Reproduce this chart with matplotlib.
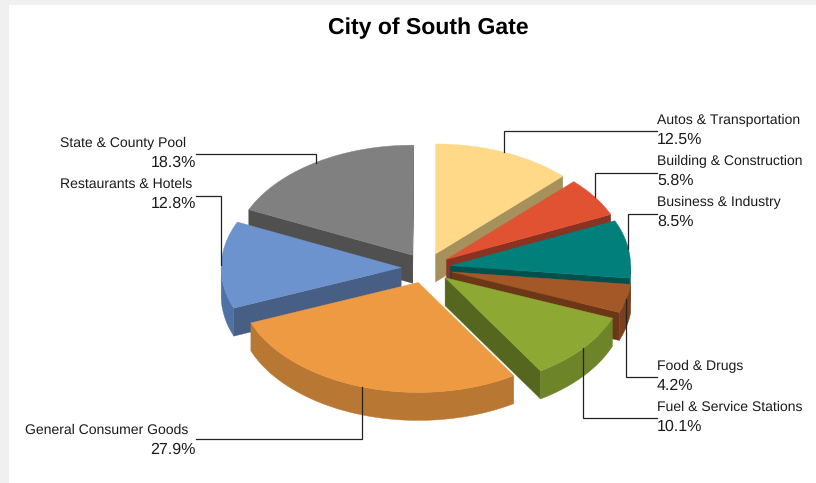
import numpy as np
import matplotlib
matplotlib.use("Agg")
import matplotlib.pyplot as plt
from matplotlib.patches import Polygon, Rectangle

plt.rcParams["text.hinting"] = "no_hinting"
plt.rcParams["text.hinting_factor"] = 1

# Sales tax share by economic segment
categories = [
    "Autos & Transportation", "Building & Construction", "Business & Industry",
    "Food & Drugs", "Fuel & Service Stations", "General Consumer Goods",
    "Restaurants & Hotels", "State & County Pool",
]
shares = [12.5, 5.8, 8.5, 4.2, 10.1, 27.9, 12.8, 18.3]

top_colors = ["#FFD888", "#E05232", "#007F7B", "#A45828", "#8DA934", "#EE9A42", "#6C93CE", "#808080"]
wall_colors = ["#A6905C", "#8A3322", "#00504E", "#6B3716", "#55661F", "#B87733", "#475F85", "#505050"]
rim_colors = ["#A6905C", "#8A3322", "#00504E", "#7A401C", "#6E8429", "#B87733", "#4F71A3", "#505050"]

# Label anchors: leader end x, name x, name y, leader elbow y
leader_end_x = [657, 657, 657, 657, 657, 196, 196, 196]
name_x = [657, 657, 657, 657, 657, 25, 60, 60]
name_y = [120.5, 161.5, 202.5, 366.5, 407.5, 430.5, 184.5, 143.5]
elbow_y = [131, 173, 214, 377, 418, 439, 196, 154]
explode = [0.138, 0.138, 0.138, 0.148, 0.138, 0.138, 0.138, 0.138]

CX, CY = 426.0, 268.0
RX, RY = 180.0, 110.0
DEPTH = 28.0
FONT = "Liberation Sans"


def rim_point(theta, apex):
    return apex[0] + RX * np.sin(theta), apex[1] - RY * np.cos(theta)


fig = plt.figure(figsize=(8.16, 4.83), dpi=100, facecolor="white")
ax = fig.add_axes([0, 0, 1, 1])
ax.set_xlim(0, 816)
ax.set_ylim(483, 0)
ax.axis("off")

# Grey page margin around the chart area
ax.add_patch(Rectangle((0, 0), 9, 483, fc="#F0F0F0", ec="none", zorder=0))
ax.add_patch(Rectangle((0, 0), 816, 4.5, fc="#F0F0F0", ec="none", zorder=0))

edges = np.radians(np.concatenate([[0], np.cumsum(shares)]) * 3.6)
wedges = []
for i, value in enumerate(shares):
    a, b = edges[i], edges[i + 1]
    mid = (a + b) / 2
    apex = (CX + explode[i] * RX * np.sin(mid), CY - explode[i] * RY * np.cos(mid))
    wedges.append((apex[1], i, a, b, mid, apex))

# Paint from the back of the pie to the front
for _, i, a, b, mid, apex in sorted(wedges, key=lambda w: w[0]):
    z = 2 + 0.1 * apex[1] / 100
    # Cut faces that turn toward the viewer
    for theta, visible in ((a, np.sin(a) < -1e-6), (b, np.sin(b) > 1e-6)):
        if visible:
            px, py = rim_point(theta, apex)
            ax.add_patch(Polygon(
                [apex, (px, py), (px, py + DEPTH), (apex[0], apex[1] + DEPTH)],
                fc=wall_colors[i], ec=wall_colors[i], lw=0.3, zorder=z))
    # Outer rim on the front half of the ellipse
    lo, hi = max(a, np.pi / 2), min(b, 3 * np.pi / 2)
    if hi > lo:
        t = np.linspace(lo, hi, 80)
        xs, ys = rim_point(t, apex)
        pts = np.column_stack([np.r_[xs, xs[::-1]], np.r_[ys, ys[::-1] + DEPTH]])
        ax.add_patch(Polygon(pts, fc=rim_colors[i], ec=rim_colors[i], lw=0.3, zorder=z))
    # Top face
    t = np.linspace(a, b, 120)
    xs, ys = rim_point(t, apex)
    ax.add_patch(Polygon(np.vstack([apex, np.column_stack([xs, ys])]),
                         fc=top_colors[i], ec=top_colors[i], lw=0.3, zorder=z + 0.01))

# Elbow leaders and two-line labels
for _, i, a, b, mid, apex in wedges:
    sx, sy = rim_point(mid, apex)
    ex = leader_end_x[i]
    ax.plot([sx, sx, ex], [sy, elbow_y[i], elbow_y[i]], color="#222222", lw=0.9,
            solid_joinstyle="miter", zorder=10)
    ax.text(name_x[i], name_y[i], categories[i], fontsize=10.2, family=FONT,
            color="#1a1a1a", ha="left", va="center", zorder=11)
    ax.text(ex, name_y[i] + 19, f"{shares[i]:.1f}%", fontsize=11.2, family=FONT,
            color="#1a1a1a", ha="left" if ex > 400 else "right", va="center", zorder=11)

ax.text(428, 28, "City of South Gate", fontsize=16.5, fontweight="bold",
        family=FONT, color="black", ha="center", va="center")

fig.savefig("out.png", dpi=100)
